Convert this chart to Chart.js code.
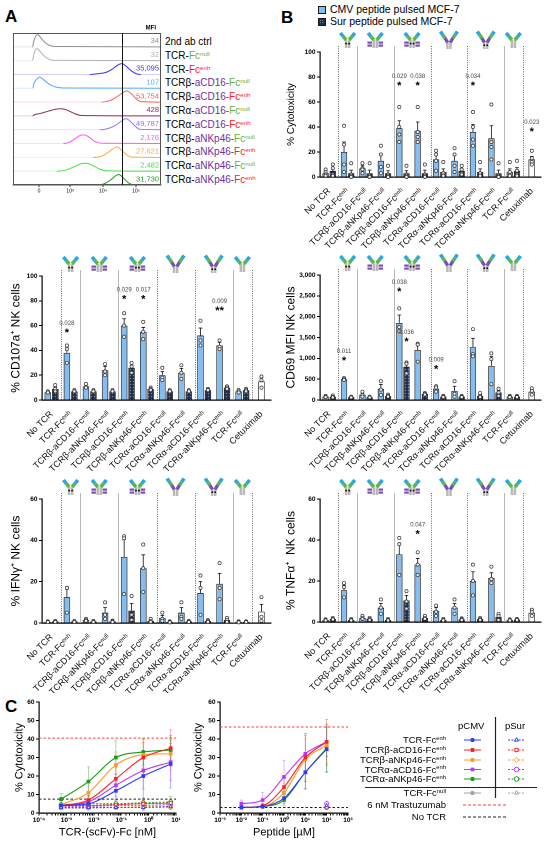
<!DOCTYPE html>
<html>
<head>
<meta charset="utf-8">
<script src="https://cdn.jsdelivr.net/npm/chart.js@4.4.1/dist/chart.umd.min.js"></script>
<style>
  body { margin: 0; background: #fff; }
  #page { position: relative; width: 550px; height: 843px; overflow: hidden; font-family: "Liberation Sans", Arial, sans-serif; color: #000; }
  #page canvas { position: absolute; }
  .panel { position: absolute; font-weight: bold; font-size: 17px; line-height: 17px; }
  .txt { position: absolute; white-space: nowrap; }
  .sw { display: inline-block; width: 6px; height: 6px; border: 1px solid #1a1a1a; margin-right: 4px; vertical-align: -1px; }
  .sw.cmv { background: #86bdf0; }
  .sw.sur { background-color: #1d2b48; background-image: radial-gradient(#c8d6f0 0.6px, transparent 0.8px); background-size: 2.5px 2.5px; }
  .hl { position: absolute; left: 165px; font-size: 10px; line-height: 14px; white-space: nowrap; }
  .hl sup, .cl sup { font-size: 62%; vertical-align: 0; position: relative; top: -0.55em; }
  .cl { position: absolute; font-size: 9.5px; line-height: 11px; white-space: nowrap; text-align: right; }
</style>
</head>
<body>
<div id="page">
  <div class="panel" style="left:5px;top:8px">A</div>
  <div class="panel" style="left:281px;top:9px">B</div>
  <div class="panel" style="left:5px;top:698px">C</div>

  <canvas id="hist" width="165" height="180" style="left:0;top:20px"></canvas>
  <div id="histLabels"></div>

  <div class="txt" style="left:318px;top:3px;font-size:10.5px"><span class="sw cmv"></span>CMV peptide pulsed MCF-7</div>
  <div class="txt" style="left:318px;top:15px;font-size:10.5px"><span class="sw sur"></span>Sur peptide pulsed MCF-7</div>

  <canvas id="cyto" width="275" height="228" style="left:275px;top:25px"></canvas>
  <canvas id="cd107a" width="275" height="225" style="left:0;top:248px"></canvas>
  <canvas id="cd69" width="275" height="225" style="left:275px;top:248px"></canvas>
  <canvas id="ifng" width="275" height="222" style="left:0;top:471px"></canvas>
  <canvas id="tnfa" width="275" height="222" style="left:275px;top:471px"></canvas>

  <canvas id="doseNm" width="190" height="148" style="left:0;top:695px"></canvas>
  <canvas id="dosePep" width="175" height="148" style="left:185px;top:695px"></canvas>

  <canvas id="legC" width="90" height="110" style="left:455px;top:715px"></canvas>
  <div id="legText"></div>
  <div style="position:absolute;left:365px;top:787px;width:172px;height:1px;background:#222"></div>
</div>

<script>
// ---------- panel A: flow histograms ----------
const histRows = [
  ['2nd ab ctrl', '', ''],
  ['TCR-', '', 'null'],
  ['TCR-', '', 'enh'],
  ['TCRβ-', 'aCD16-', 'null'],
  ['TCRβ-', 'aCD16-', 'enh'],
  ['TCRα-', 'aCD16-', 'null'],
  ['TCRα-', 'aCD16-', 'enh'],
  ['TCRβ-', 'aNKp46-', 'null'],
  ['TCRβ-', 'aNKp46-', 'enh'],
  ['TCRα-', 'aNKp46-', 'null'],
  ['TCRα-', 'aNKp46-', 'enh']
];
const histMfi = ['34', '32', '35,095', '107', '53,754', '428', '49,787', '2,176', '27,621', '2,482', '31,730'];
const histColors = ['#8f8f8f', '#b3b3b3', '#3535ff', '#4fa9ff', '#ff5a5a', '#8e2a52', '#9c6cff', '#ff55ff', '#ffa64d', '#3fe33f', '#1f9a1f'];
// [decade position, relative count]
const histCurves = [
  [[1.3,0],[1.86,0],[1.9,0.4],[1.95,0.72],[2.02,0.88],[2.1,0.7],[2.2,0.4],[2.35,0.14],[2.55,0.02],[5.75,0]],
  [[1.3,0],[1.86,0],[1.9,0.42],[1.94,0.74],[2.0,0.86],[2.08,0.7],[2.18,0.42],[2.33,0.14],[2.5,0.02],[5.75,0]],
  [[1.3,0],[3.6,0],[3.85,0.05],[4.1,0.16],[4.3,0.42],[4.45,0.68],[4.57,0.78],[4.7,0.6],[4.85,0.28],[5.0,0.06],[5.15,0],[5.75,0]],
  [[1.3,0],[1.87,0],[1.9,0.32],[1.98,0.62],[2.08,0.8],[2.2,0.62],[2.35,0.32],[2.55,0.1],[2.8,0.02],[5.75,0]],
  [[1.3,0],[3.95,0],[4.2,0.1],[4.4,0.35],[4.58,0.65],[4.72,0.8],[4.86,0.6],[5.0,0.25],[5.15,0.03],[5.75,0]],
  [[1.3,0],[1.87,0],[1.9,0.06],[2.1,0.18],[2.35,0.35],[2.6,0.5],[2.75,0.52],[2.95,0.38],[3.15,0.15],[3.35,0.03],[5.75,0]],
  [[1.3,0],[3.9,0],[4.15,0.08],[4.4,0.35],[4.57,0.65],[4.7,0.8],[4.83,0.6],[4.98,0.25],[5.12,0.03],[5.75,0]],
  [[1.3,0],[2.8,0],[3.0,0.12],[3.2,0.42],[3.35,0.62],[3.45,0.62],[3.6,0.42],[3.75,0.15],[3.95,0.02],[5.75,0]],
  [[1.3,0],[3.7,0],[3.95,0.08],[4.15,0.35],[4.3,0.62],[4.42,0.76],[4.55,0.55],[4.7,0.22],[4.85,0.03],[5.75,0]],
  [[1.3,0],[2.6,0],[2.9,0.1],[3.15,0.35],[3.35,0.55],[3.5,0.57],[3.7,0.4],[3.9,0.15],[4.15,0.02],[5.75,0]],
  [[1.3,0],[3.8,0],[4.05,0.1],[4.25,0.4],[4.38,0.66],[4.48,0.76],[4.6,0.55],[4.75,0.2],[4.9,0.03],[5.75,0]]
];
const histTicks = [2.06, 3, 4, 5];
const histTickLabels = ['0', '10³', '10⁴', '10⁵'];
const histGate = 4.58;

// ---------- panel B: bar charts ----------
const categories = ['No TCR', 'TCR-Fcᵉⁿʰ', 'TCRβ-aCD16-Fcⁿᵘˡˡ', 'TCRβ-aNKp46-Fcⁿᵘˡˡ', 'TCRβ-aCD16-Fcᵉⁿʰ', 'TCRβ-aNKp46-Fcᵉⁿʰ',
  'TCRα-aCD16-Fcⁿᵘˡˡ', 'TCRα-aNKp46-Fcⁿᵘˡˡ', 'TCRα-aCD16-Fcᵉⁿʰ', 'TCRα-aNKp46-Fcᵉⁿʰ', 'TCR-Fcⁿᵘˡˡ', 'Cetuximab'];

const cytoCmv = [3, 20, 7, 13, 39, 37, 14, 13, 36, 31, 4, 14];
const cytoSur = [5, 3, 3, 3, 3, 3, 4, 5, 4, 3, 5, null];
const cytoCmvSem = [1, 8, 2, 5, 6, 7, 3.5, 4.5, 6, 10, 2.5, 2.5];
const cytoSurSem = [2, 2.5, 2.5, 2, 2, 2.5, 2.5, 1.5, 2.5, 2.5, 2.5, null];
const cytoCmvPts = [[6,4,2,1],[41,26,10,4],[11,7,6,3],[25,18,8,3],[56,40,34,28],[56,36,32,28],[21,18,13,5],[23,18,9,4],[52,40,30,25],[58,28,24,14],[12,4,1,1],[21,15,12,10]];
const cytoSurPts = [[10,7,2,1],[11,2,1,0],[11,1,1,0],[9,2,1,0],[9,2,1,0],[10,2,1,0],[12,3,1,1],[9,6,3,2],[12,3,1,1],[11,1,0,0],[13,5,2,1],[]];
const cytoStars = [{ i: 4, y: 75, mark: '*', p: '0.029' }, { i: 5, y: 75, mark: '*', p: '0.038' }, { i: 8, y: 75, mark: '*', p: '0.034' }, { i: 11, y: 38, mark: '*', p: '0.023' }];

const cd107aCmv = [6.3, 38, 11, 24, 60, 55, 20, 22, 52, 44, 7, 15];
const cd107aSur = [9, 7, 7, 7, 26, 9, 7, 7, 8, 10, 8, null];
const cd107aCmvSem = [0.5, 4, 1, 3, 5.5, 3.5, 3, 3.5, 6, 2.5, 0.6, 3];
const cd107aSurSem = [1.5, 0.5, 0.4, 0.4, 2, 0.6, 0.4, 0.4, 0.4, 0.6, 0.5, null];
const cd107aCmvPts = [[7,6,6],[44,41,30],[13,10,10],[29,23,20],[70,60,51],[63,55,49],[26,18,16],[28,22,17],[64,48,44],[48,43,41],[8,7,6],[19,16,10]];
const cd107aSurPts = [[12,9,7],[8,7,7],[8,7,7],[8,7,7],[30,27,22],[10,9,8],[8,7,7],[8,7,7],[9,8,8],[11,10,9],[9,8,7],[]];
const cd107aStars = [{ i: 1, y: 56, mark: '*', p: '0.028' }, { i: 4, y: 83, mark: '*', p: '0.029' }, { i: 5, y: 83, mark: '*', p: '0.017' }, { i: 9, y: 74, mark: '**', p: '0.009' }];

const cd69Cmv = [80, 500, 130, 270, 1850, 1200, 270, 220, 1270, 820, 80, 200];
const cd69Sur = [80, 70, 70, 100, 800, 150, 80, 80, 100, 180, 80, null];
const cd69CmvSem = [10, 15, 35, 100, 190, 140, 40, 110, 210, 220, 10, 45];
const cd69SurSem = [15, 6, 6, 15, 80, 12, 10, 10, 30, 50, 10, null];
const cd69CmvPts = [[100,80,70],[530,500,480],[200,120,80],[450,250,120],[2200,1750,1650],[1350,1330,920],[330,300,200],[450,150,80],[1700,1100,1050],[1120,980,380],[100,80,70],[280,220,130]];
const cd69SurPts = [[110,80,60],[80,70,60],[80,70,60],[130,100,80],[900,870,640],[170,150,130],[100,80,70],[100,80,70],[170,100,70],[270,180,100],[100,80,70],[]];
const cd69Stars = [{ i: 1, y: 1000, mark: '*', p: '0.011' }, { i: 4, y: 2650, mark: '*', p: '0.038' }, { i: 4, ds: 1, y: 1450, mark: '*', p: '0.036' }, { i: 6, y: 790, mark: '*', p: '0.009' }];

const ifngCmv = [0.5, 12.5, 1.5, 5, 32, 26.5, 2.5, 5, 14.5, 19, 0.5, 5.5];
const ifngSur = [0.7, 0.7, 0.7, 0.8, 6, 1, 0.5, 0.7, 1, 1.5, 0.6, null];
const ifngCmvSem = [0.1, 4, 0.3, 2.5, 8.5, 6.5, 1.2, 2.5, 5.5, 5, 0.15, 3.5];
const ifngSurSem = [0.15, 0.15, 0.15, 0.2, 3.5, 0.4, 0.15, 0.15, 0.3, 0.6, 0.15, null];
const ifngCmvPts = [[0.8,0.5,0.4],[17,17,5],[2,1.5,1],[10,4,2],[42,41,14],[38,26.5,15],[5,2,1],[10,3,2],[23,17,4],[29,17,11.5],[0.8,0.5,0.3],[12.5,3,1]];
const ifngSurPts = [[1,0.7,0.5],[1,0.7,0.5],[1,0.7,0.5],[1.2,0.8,0.5],[13,4,1.5],[2,1,0.5],[0.8,0.5,0.3],[1,0.7,0.5],[1.5,1,0.5],[2.5,1.5,0.5],[0.8,0.6,0.4],[]];
const ifngStars = [];

const tnfaCmv = [1, 15.5, 2, 7, 33, 28, 5.5, 7, 20, 21.5, 1, 4.5];
const tnfaSur = [1.5, 1, 1.5, 1, 10.5, 2, 1, 1.3, 1.5, 2.5, 1.3, null];
const tnfaCmvSem = [0.15, 2.5, 0.5, 2, 5.5, 3, 1.5, 2, 4.5, 2.5, 0.15, 1];
const tnfaSurSem = [0.3, 0.2, 0.3, 0.2, 2.5, 0.5, 0.2, 0.2, 0.3, 0.9, 0.1, null];
const tnfaCmvPts = [[1.3,1,0.8],[19,17,12],[3,2,1.5],[11,7,4],[41,38,23],[34,28,23],[8,5,3],[11,7,4],[28,20,13],[27,21,19],[1.3,1,0.8],[6,5,3]];
const tnfaSurPts = [[2,1.5,1.2],[1.5,1,0.8],[2,1.5,1],[1.5,1,0.8],[15,10,6.5],[3,2,1.5],[1.5,1,0.8],[1.8,1.4,1],[2,1.5,1],[4,3,1],[1.5,1.3,1],[]];
const tnfaStars = [{ i: 5, y: 44, mark: '*', p: '0.047' }];

// ---------- panel C: dose response ----------
const constructs = ['TCR-Fcᵉⁿʰ', 'TCRβ-aCD16-Fcᵉⁿʰ', 'TCRβ-aNKp46-Fcᵉⁿʰ', 'TCRα-aCD16-Fcᵉⁿʰ', 'TCRα-aNKp46-Fcᵉⁿʰ', 'TCR-Fcⁿᵘˡˡ'];
const doseNmValues = [0.00064, 0.0064, 0.064, 0.64, 6.4];
const nmCmv = [[4, 5, 12, 20, 26.5], [4, 7, 18.5, 30, 35], [4.5, 11, 26, 31.5, 32], [4, 6, 15, 23, 27.5], [7.5, 17, 30, 33, 34], [4, 4, 4.5, 5, 5]];
const nmCmvSem = [[1, 2, 5, 12, 13], [1, 2.5, 6, 8, 10], [1, 4, 7, 8, 9], [1, 2, 6, 10, 10], [3, 8, 9, 7, 8], [1, 1, 1.5, 2, 2]];
const nmSur = [[3, 3, 3, 3, 3.5], [4, 4, 4.5, 5, 5.5], [3, 3, 3, 3.5, 3.5], [3.5, 3.5, 4, 4, 4.5], [4.5, 5, 5, 5.5, 6], [2.5, 2.5, 3, 3, 3]];
const nmSurSem = [[1, 1, 1, 1.5, 1.5], [1, 1, 1.5, 2, 2], [1, 1, 1, 1.5, 1.5], [1, 1, 1.5, 1.5, 2], [1.5, 1.5, 2, 2.5, 3], [1, 1, 1, 1, 1]];
const nmTrastuzumab = 40.5;
const nmNoTcr = 7.5;

const dosePepValues = [0.01, 0.1, 1, 10, 100];
const surPepValues = [100];
const pepCmv = [[3, 3.5, 8, 22, 34.5], [3, 4, 14, 30, 38.5], [3, 3.5, 11, 29, 36.5], [5, 7, 19.5, 32, 38.5], [3, 3.5, 7, 22, 35], null];
const pepCmvSem = [[0.5, 1, 3, 9, 12], [0.5, 1, 6, 13, 12], [0.5, 1, 5, 11, 11], [2, 4, 9, 10, 8], [0.5, 1, 3, 9, 13], null];
const pepSur = [[4], [3], [3.5], [5], [3], null];
const pepSurSem = [[1], [1], [1], [1.5], [1], null];
const pepTrastuzumab = 46.5;
const pepNoTcr = 3;

// ---------- shared styling ----------
const FONT = '"Liberation Sans", Arial, sans-serif';
Chart.defaults.font.family = FONT;
Chart.defaults.color = '#000';
Chart.defaults.animation = false;
Chart.defaults.plugins.legend.display = false;
Chart.defaults.plugins.tooltip.enabled = false;

const cmvBlue = '#86bdf0';
const lineColors = ['#2b3bff', '#ff1e1e', '#ff9922', '#b936ff', '#1a9a1a', '#a3a3a3'];
const surMarkers = ['triangle', 'rect', 'rectRot', 'circle', 'circle', 'triangle'];

function fade(hex, a) {
  const n = parseInt(hex.slice(1), 16);
  return `rgba(${n >> 16},${(n >> 8) & 255},${n & 255},${a})`;
}
const sup = n => String(n).split('').map(ch => '⁻⁰¹²³⁴⁵⁶⁷⁸⁹'['-0123456789'.indexOf(ch)]).join('');

// ---------- panel A ----------
document.getElementById('histLabels').innerHTML = histRows.map((r, i) => {
  const top = Math.round(42 + 13.8 * i - 7);
  if (!r[2]) return `<div class="hl" style="top:${top}px">${r[0]}</div>`;
  const fc = r[2] === 'enh' ? '#ff2020' : '#6aad3d';
  return `<div class="hl" style="top:${top}px">${r[0]}<span style="color:#7030a0">${r[1]}</span><span style="color:${fc}">Fc<sup>${r[2]}</sup></span></div>`;
}).join('');

const histDecor = {
  id: 'histDecor',
  afterDraw(chart) {
    const { ctx, chartArea: a, scales: { x, y } } = chart;
    ctx.save();
    ctx.strokeStyle = '#555';
    ctx.lineWidth = 1;
    ctx.strokeRect(a.left + 0.5, a.top + 0.5, a.width - 1, a.height - 1);
    const gx = Math.round(x.getPixelForValue(histGate)) + 0.5;
    ctx.strokeStyle = '#111';
    ctx.beginPath(); ctx.moveTo(gx, a.top); ctx.lineTo(gx, a.bottom); ctx.stroke();
    ctx.textAlign = 'right';
    ctx.textBaseline = 'middle';
    ctx.font = `7.5px ${FONT}`;
    histMfi.forEach((m, i) => {
      ctx.fillStyle = histColors[i];
      ctx.fillText(m, a.right - 2, y.getPixelForValue(10 - i + 0.42));
    });
    ctx.fillStyle = '#000';
    ctx.font = `bold 6px ${FONT}`;
    ctx.fillText('MFI', a.right - 5, a.top - 5);
    ctx.restore();
  }
};

new Chart(document.getElementById('hist'), {
  type: 'line',
  data: {
    datasets: histCurves.map((pts, i) => ({
      data: pts.map(([u, h]) => ({ x: u, y: 10 - i + h })),
      borderColor: histColors[i],
      borderWidth: 1,
      pointRadius: 0,
      cubicInterpolationMode: 'monotone',
      segment: {
        borderColor: c => (c.p0.parsed.y - (10 - i) < 0.015 && c.p1.parsed.y - (10 - i) < 0.015) ? fade(histColors[i], 0.22) : undefined
      }
    }))
  },
  options: {
    responsive: false,
    devicePixelRatio: 2,
    layout: { padding: { left: 13, right: 4, top: 13, bottom: 0 } },
    scales: {
      x: {
        type: 'linear', min: 1.27, max: 5.76,
        afterBuildTicks: s => { s.ticks = histTicks.map(v => ({ value: v })); },
        ticks: { font: { size: 5 }, padding: 1, maxRotation: 0, callback: v => histTickLabels[histTicks.indexOf(v)] },
        grid: { drawOnChartArea: false, color: '#333', tickLength: 2 },
        border: { color: '#555', width: 1 },
        afterFit: s => { s.height = 15; }
      },
      y: { display: false, min: 0, max: 11 }
    }
  },
  plugins: [histDecor]
});

// ---------- panel B ----------
const groupSeps = [{ after: 0, solid: false }, { after: 1, solid: true }, { after: 3, solid: true }, { after: 5, solid: false }, { after: 7, solid: false }, { after: 9, solid: true }, { after: 10, solid: false }];
const groupIcons = [{ a: 1, b: 1, kind: 'fc', enh: true }, { a: 2, b: 3, kind: 'beta', enh: false }, { a: 4, b: 5, kind: 'beta', enh: true },
  { a: 6, b: 7, kind: 'alpha', enh: false }, { a: 8, b: 9, kind: 'alpha', enh: true }, { a: 10, b: 10, kind: 'fc', enh: false }];

function drawAntibody(ctx, cx, top, kind, enh) {
  const cyan = '#27a8e0', green = '#58b846', gray = '#b9b9b9', purple = '#7a4fb6';
  ctx.save();
  ctx.lineCap = 'butt';
  const alpha = kind === 'alpha';
  const stemTop = alpha ? top + 10 : top + 8;
  const stemLen = alpha ? 7 : 8;
  ctx.fillStyle = gray;
  ctx.fillRect(cx - 2.8, stemTop, 5.6, stemLen);
  ctx.fillStyle = '#fff';
  ctx.fillRect(cx - 0.3, stemTop, 0.6, stemLen);
  if (enh) {
    ctx.fillStyle = '#111';
    [-1.5, 1.5].forEach(d => { ctx.beginPath(); ctx.arc(cx + d, stemTop + stemLen * 0.45, 0.95, 0, Math.PI * 2); ctx.fill(); });
  }
  [-1, 1].forEach(side => {
    const bx = cx + side * (alpha ? 4 : 1.5), by = alpha ? top + 6 : top + 8;
    const tx = cx + side * (alpha ? 8.5 : 7.2), ty = alpha ? top - 0.5 : top + 1;
    const mx = (bx + tx) / 2, my = (by + ty) / 2;
    ctx.lineWidth = 3.6;
    ctx.strokeStyle = green;
    ctx.beginPath(); ctx.moveTo(bx, by); ctx.lineTo(mx, my); ctx.stroke();
    ctx.strokeStyle = cyan;
    ctx.beginPath(); ctx.moveTo(mx, my); ctx.lineTo(tx, ty); ctx.stroke();
    if (kind === 'beta') {
      ctx.fillStyle = purple;
      const x0 = side < 0 ? cx - 7.8 : cx + 3.3;
      ctx.fillRect(x0, stemTop + 1.5, 4.5, 2.2);
      ctx.fillRect(x0, stemTop + 4.5, 4.5, 2.2);
    }
    if (alpha) {
      ctx.strokeStyle = purple;
      ctx.lineWidth = 3.3;
      ctx.beginPath(); ctx.moveTo(bx, by); ctx.lineTo(cx + side * 1.3, stemTop + 0.5); ctx.stroke();
    }
  });
  ctx.restore();
}

const barExtras = {
  id: 'barExtras',
  beforeDatasetsDraw(chart) {
    const { ctx, chartArea: a, scales: { x } } = chart;
    ctx.save();
    groupSeps.forEach(s => {
      const px = Math.round((x.getPixelForValue(s.after) + x.getPixelForValue(s.after + 1)) / 2) + 0.5;
      ctx.lineWidth = s.solid ? 0.8 : 0.9;
      ctx.strokeStyle = s.solid ? '#a5a5a5' : '#555';
      ctx.setLineDash(s.solid ? [] : [1, 1.3]);
      ctx.beginPath(); ctx.moveTo(px, a.top - 6); ctx.lineTo(px, a.bottom); ctx.stroke();
    });
    ctx.restore();
  },
  afterDatasetsDraw(chart, args, opts) {
    const { ctx, scales: { y } } = chart;
    ctx.save();
    chart.data.datasets.forEach((ds, di) => {
      chart.getDatasetMeta(di).data.forEach((bar, j) => {
        const v = ds.data[j];
        if (v == null) return;
        const top = y.getPixelForValue(v), hi = y.getPixelForValue(v + ds.errs[j]);
        ctx.strokeStyle = '#111';
        ctx.lineWidth = 0.8;
        ctx.beginPath();
        ctx.moveTo(bar.x, top); ctx.lineTo(bar.x, hi);
        ctx.moveTo(bar.x - 1.8, hi); ctx.lineTo(bar.x + 1.8, hi);
        ctx.stroke();
        ds.pts[j].forEach(p => {
          ctx.beginPath();
          ctx.arc(bar.x, y.getPixelForValue(p), 1.6, 0, Math.PI * 2);
          ctx.fillStyle = 'rgba(255,255,255,0.85)';
          ctx.fill();
          ctx.lineWidth = 0.7;
          ctx.strokeStyle = '#333';
          ctx.stroke();
        });
      });
    });
    ctx.textAlign = 'center';
    ctx.textBaseline = 'middle';
    opts.stars.forEach(s => {
      const bar = chart.getDatasetMeta(s.ds || 0).data[s.i];
      const py = y.getPixelForValue(s.y);
      ctx.fillStyle = '#000';
      ctx.font = `bold 11px ${FONT}`;
      ctx.fillText(s.mark, bar.x, py + 2.5);
      ctx.fillStyle = '#444';
      ctx.font = `6px ${FONT}`;
      ctx.fillText(s.p, bar.x, py - 7);
    });
    ctx.restore();
  },
  afterDraw(chart) {
    const { ctx, chartArea: a, scales: { x } } = chart;
    groupIcons.forEach(ic => {
      const cx = (x.getPixelForValue(ic.a) + x.getPixelForValue(ic.b)) / 2;
      drawAntibody(ctx, cx, a.top - 20, ic.kind, ic.enh);
    });
  }
};

function dotPattern(ctx) {
  const c = document.createElement('canvas');
  c.width = 3; c.height = 3;
  const g = c.getContext('2d');
  g.fillStyle = '#1d2b48'; g.fillRect(0, 0, 3, 3);
  g.fillStyle = '#b8c8e8'; g.fillRect(1, 1, 1, 1);
  return ctx.createPattern(c, 'repeat');
}

function barChart(id, d, L) {
  const canvas = document.getElementById(id);
  return new Chart(canvas, {
    type: 'bar',
    data: {
      labels: categories,
      datasets: [
        { label: 'CMV peptide pulsed MCF-7', data: d.cmv, errs: d.cmvSem, pts: d.cmvPts,
          backgroundColor: categories.map(c => c === 'Cetuximab' ? '#fff' : cmvBlue),
          borderColor: '#1a1a1a', borderWidth: 0.8, skipNull: true, maxBarThickness: 6.5 },
        { label: 'Sur peptide pulsed MCF-7', data: d.sur, errs: d.surSem, pts: d.surPts,
          backgroundColor: dotPattern(canvas.getContext('2d')),
          borderColor: '#1a1a1a', borderWidth: 0.8, skipNull: true, maxBarThickness: 6.5 }
      ]
    },
    options: {
      responsive: false,
      devicePixelRatio: 2,
      categoryPercentage: 0.78,
      barPercentage: 0.88,
      layout: { padding: { left: L.padLeft, right: L.padRight, top: L.padTop, bottom: 0 } },
      scales: {
        x: {
          ticks: { minRotation: 45, maxRotation: 45, autoSkip: false, font: { size: 9 }, color: '#111', padding: 1 },
          grid: { display: false },
          border: { color: '#000', width: 1.2 },
          afterFit: s => { s.height = L.xH; }
        },
        y: {
          min: 0, max: d.max,
          ticks: { stepSize: d.step, font: { size: 6.5, weight: 'bold' }, padding: 1.5 },
          grid: { drawOnChartArea: false, color: '#000', tickLength: 3 },
          border: { color: '#000', width: 1.2 },
          title: { display: true, text: d.title, font: { size: d.titleSize }, padding: 0 },
          afterFit: s => { s.width = L.yW; }
        }
      },
      plugins: { barExtras: { stars: d.stars } }
    },
    plugins: [barExtras]
  });
}

barChart('cyto', { cmv: cytoCmv, sur: cytoSur, cmvSem: cytoCmvSem, surSem: cytoSurSem, cmvPts: cytoCmvPts, surPts: cytoSurPts,
  stars: cytoStars, max: 100, step: 20, title: '% Cytotoxicity', titleSize: 10 },
  { padLeft: 10, padRight: 9, padTop: 27, yW: 35, xH: 76 });
barChart('cd107a', { cmv: cd107aCmv, sur: cd107aSur, cmvSem: cd107aCmvSem, surSem: cd107aSurSem, cmvPts: cd107aCmvPts, surPts: cd107aSurPts,
  stars: cd107aStars, max: 100, step: 20, title: '% CD107a⁺ NK cells', titleSize: 12 },
  { padLeft: 9, padRight: 4, padTop: 28, yW: 33, xH: 73 });
barChart('cd69', { cmv: cd69Cmv, sur: cd69Sur, cmvSem: cd69CmvSem, surSem: cd69SurSem, cmvPts: cd69CmvPts, surPts: cd69SurPts,
  stars: cd69Stars, max: 3000, step: 500, title: 'CD69 MFI NK cells', titleSize: 12 },
  { padLeft: 9, padRight: 9, padTop: 27, yW: 36, xH: 73 });
barChart('ifng', { cmv: ifngCmv, sur: ifngSur, cmvSem: ifngCmvSem, surSem: ifngSurSem, cmvPts: ifngCmvPts, surPts: ifngSurPts,
  stars: ifngStars, max: 60, step: 20, title: '% IFNγ⁺ NK cells', titleSize: 12 },
  { padLeft: 9, padRight: 4, padTop: 28, yW: 33, xH: 70 });
barChart('tnfa', { cmv: tnfaCmv, sur: tnfaSur, cmvSem: tnfaCmvSem, surSem: tnfaSurSem, cmvPts: tnfaCmvPts, surPts: tnfaSurPts,
  stars: tnfaStars, max: 60, step: 20, title: '% TNFα⁺  NK cells', titleSize: 12 },
  { padLeft: 9, padRight: 9, padTop: 28, yW: 36, xH: 71 });

// ---------- panel C ----------
const doseExtras = {
  id: 'doseExtras',
  beforeDatasetsDraw(chart, args, opts) {
    const { ctx, chartArea: a, scales: { y } } = chart;
    ctx.save();
    ctx.lineWidth = 1;
    opts.refs.forEach(r => {
      const py = y.getPixelForValue(r.v);
      ctx.strokeStyle = r.color;
      ctx.setLineDash([2.5, 2]);
      ctx.beginPath(); ctx.moveTo(a.left, py); ctx.lineTo(a.right, py); ctx.stroke();
    });
    ctx.setLineDash([]);
    chart.data.datasets.forEach((ds, di) => {
      if (!ds.errs) return;
      chart.getDatasetMeta(di).data.forEach((pt, j) => {
        const v = ds.data[j].y, e = ds.errs[j];
        const lo = y.getPixelForValue(Math.max(0, v - e)), hi = y.getPixelForValue(v + e);
        ctx.strokeStyle = fade(ds.baseColor, 0.45);
        ctx.lineWidth = 0.8;
        ctx.beginPath();
        ctx.moveTo(pt.x, lo); ctx.lineTo(pt.x, hi);
        ctx.moveTo(pt.x - 1.5, lo); ctx.lineTo(pt.x + 1.5, lo);
        ctx.moveTo(pt.x - 1.5, hi); ctx.lineTo(pt.x + 1.5, hi);
        ctx.stroke();
      });
    });
    ctx.restore();
  }
};

function isPow10(v) {
  const l = Math.log10(v);
  return Math.abs(l - Math.round(l)) < 1e-6;
}

function doseChart(id, d, L) {
  const datasets = [];
  constructs.forEach((name, k) => {
    if (d.cmv[k]) {
      datasets.push({
        label: name + ' pCMV', baseColor: lineColors[k], errs: d.cmvSem[k],
        data: d.doses.map((x, j) => ({ x, y: d.cmv[k][j] })),
        borderColor: lineColors[k], backgroundColor: lineColors[k], borderWidth: 1.1,
        pointStyle: 'rect', pointRadius: 1.8, cubicInterpolationMode: 'monotone'
      });
    }
    if (d.sur[k]) {
      datasets.push({
        label: name + ' pSur', baseColor: lineColors[k], errs: d.surSem[k],
        data: d.surDoses.map((x, j) => ({ x, y: d.sur[k][j] })),
        borderColor: lineColors[k], backgroundColor: '#fff', borderWidth: 0.9, borderDash: [2, 1.5],
        pointStyle: surMarkers[k], pointRadius: 2, pointBorderWidth: 0.8
      });
    }
  });
  return new Chart(document.getElementById(id), {
    type: 'line',
    data: { datasets },
    options: {
      responsive: false,
      devicePixelRatio: 2,
      layout: { padding: { left: L.padLeft, right: L.padRight, top: 7, bottom: 4 } },
      scales: {
        x: {
          type: 'logarithmic', min: d.min, max: d.max,
          ticks: { autoSkip: false, maxRotation: 0, font: { size: 6.5, weight: 'bold' }, padding: 1,
            callback: v => isPow10(v) ? '10' + sup(Math.round(Math.log10(v))) : '' },
          grid: { drawOnChartArea: false, color: '#000', tickLength: 2.5 },
          border: { color: '#000', width: 1.2 },
          title: { display: true, text: d.xTitle, font: { size: 11 }, padding: 0 },
          afterFit: s => { s.height = 26; }
        },
        y: {
          min: 0, max: 60,
          ticks: { stepSize: 10, font: { size: 6.5, weight: 'bold' }, padding: 1.5 },
          grid: { drawOnChartArea: false, color: '#000', tickLength: 3 },
          border: { color: '#000', width: 1.2 },
          title: { display: true, text: '% Cytotoxicity', font: { size: 11 }, padding: 0 },
          afterFit: s => { s.width = L.yW; }
        }
      },
      plugins: { doseExtras: { refs: [{ v: d.trast, color: '#ff3b3b' }, { v: d.noTcr, color: '#222' }] } }
    },
    plugins: [doseExtras]
  });
}

doseChart('doseNm', { doses: doseNmValues, surDoses: doseNmValues, cmv: nmCmv, cmvSem: nmCmvSem, sur: nmSur, surSem: nmSurSem,
  min: 1e-4, max: 10, xTitle: 'TCR-(scFv)-Fc [nM]', trast: nmTrastuzumab, noTcr: nmNoTcr },
  { padLeft: 13, padRight: 14, yW: 26 });
doseChart('dosePep', { doses: dosePepValues, surDoses: surPepValues, cmv: pepCmv, cmvSem: pepCmvSem, sur: pepSur, surSem: pepSurSem,
  min: 1e-3, max: 1e3, xTitle: 'Peptide [µM]', trast: pepTrastuzumab, noTcr: pepNoTcr },
  { padLeft: 7, padRight: 12, yW: 28 });

// legend for panel C
const legRowsY = [740, 750, 760, 769.5, 779, 793];
const legLines = [{ text: '6 nM Trastuzumab', y: 805, color: '#ff3b3b' }, { text: 'No TCR', y: 817, color: '#222' }];
(function legend() {
  const html = [];
  html.push('<div class="cl" style="left:458px;top:720px">pCMV</div>');
  html.push('<div class="cl" style="left:505px;top:720px">pSur</div>');
  const fmt = s => s.replace(/Fc(ᵉⁿʰ|ⁿᵘˡˡ)/, (m, t) => 'Fc<sup>' + (t === 'ᵉⁿʰ' ? 'enh' : 'null') + '</sup>');
  constructs.forEach((c, k) => {
    html.push(`<div class="cl" style="right:${550 - 446}px;top:${legRowsY[k] - 6}px">${fmt(c)}</div>`);
  });
  legLines.forEach(l => html.push(`<div class="cl" style="right:${550 - 446}px;top:${l.y - 6}px">${l.text}</div>`));
  document.getElementById('legText').innerHTML = html.join('');

  const c = document.getElementById('legC');
  const g = c.getContext('2d');
  const ox = 455, oy = 715;
  g.strokeStyle = '#222'; g.lineWidth = 1.2;
  g.beginPath(); g.moveTo(495 - ox + 0.5, 717 - oy); g.lineTo(495 - ox + 0.5, 798 - oy); g.stroke();
  constructs.forEach((name, k) => {
    const y = legRowsY[k] - oy;
    g.strokeStyle = lineColors[k]; g.fillStyle = lineColors[k]; g.lineWidth = 1;
    g.setLineDash([]);
    g.beginPath(); g.moveTo(464 - ox, y); g.lineTo(481 - ox, y); g.stroke();
    Chart.helpers.drawPoint(g, { pointStyle: 'rect', radius: 2, rotation: 0, borderWidth: 1 }, 472.5 - ox, y);
    g.setLineDash([2, 1.5]);
    g.beginPath(); g.moveTo(508 - ox, y); g.lineTo(525 - ox, y); g.stroke();
    g.setLineDash([]);
    g.fillStyle = '#fff';
    Chart.helpers.drawPoint(g, { pointStyle: surMarkers[k], radius: 2.3, rotation: 0, borderWidth: 0.9 }, 516.5 - ox, y);
  });
  legLines.forEach(l => {
    g.strokeStyle = l.color; g.lineWidth = 1.1; g.setLineDash([3, 2]);
    g.beginPath(); g.moveTo(463 - ox, l.y - oy); g.lineTo(506 - ox, l.y - oy); g.stroke();
  });
})();
</script>
</body>
</html>
